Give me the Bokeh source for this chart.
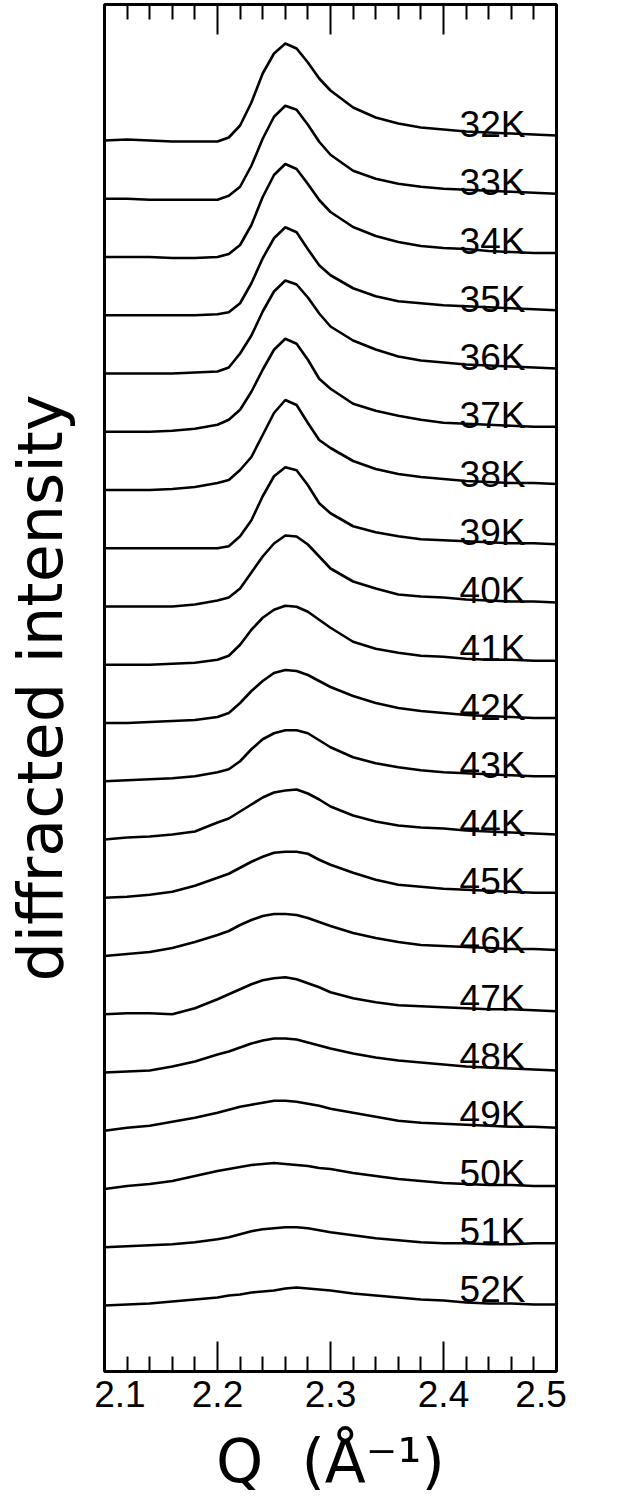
from bokeh.plotting import figure
from bokeh.models import LinearAxis, FixedTicker
from bokeh.core.properties import value
from bokeh.embed import file_html
from bokeh.resources import INLINE

# Scattering vector Q (1/Angstrom) at which the curves were read
q = [2.10, 2.12, 2.14, 2.16, 2.18, 2.20, 2.21, 2.22, 2.23, 2.24, 2.25, 2.26, 2.27,
     2.28, 2.29, 2.30, 2.32, 2.34, 2.36, 2.38, 2.40, 2.42, 2.44, 2.46, 2.48, 2.50]

temps = ["32K", "33K", "34K", "35K", "36K", "37K", "38K", "39K", "40K", "41K", "42K",
         "43K", "44K", "45K", "46K", "47K", "48K", "49K", "50K", "51K", "52K"]

# diffracted intensity above each curve's own background (arb. units)
i32 = [0, 1, 0, -1, -1, -1, 3, 15, 38, 67, 87, 97, 92, 78, 62, 50, 33, 23, 17, 13, 11, 9, 8, 7, 6, 5]
i33 = [0, 0, -1, -1, -1, -1, 3, 12, 33, 60, 82, 93, 89, 74, 57, 44, 28, 20, 15, 12, 10, 9, 8, 7, 6, 5]
i34 = [0, 0, 0, -1, -1, 0, 3, 12, 32, 60, 82, 93, 88, 73, 57, 45, 30, 21, 15, 11, 9, 8, 6, 5, 4, 4]
i35 = [0, 0, 0, 0, 0, 1, 3, 12, 32, 57, 77, 88, 83, 66, 50, 40, 27, 19, 14, 12, 10, 9, 8, 7, 6, 5]
i36 = [0, 0, 0, 0, 1, 2, 6, 20, 38, 62, 82, 93, 89, 76, 60, 47, 33, 24, 17, 13, 11, 9, 8, 7, 6, 5]
i37 = [0, 0, 0, 1, 3, 7, 12, 22, 40, 62, 82, 93, 88, 72, 53, 43, 28, 21, 16, 12, 9, 8, 7, 6, 5, 5]
i38 = [0, 0, 0, 1, 3, 7, 10, 20, 33, 55, 77, 90, 85, 67, 50, 42, 29, 21, 16, 13, 11, 9, 8, 7, 7, 6]
i39 = [0, 0, 0, 0, 0, 0, 2, 12, 28, 52, 72, 81, 78, 63, 45, 35, 22, 16, 12, 9, 8, 7, 6, 5, 5, 4]
i40 = [0, 0, 0, 0, 2, 6, 9, 18, 34, 50, 63, 71, 70, 62, 50, 38, 25, 18, 12, 10, 9, 7, 6, 5, 5, 4]
i41 = [0, 0, 0, 1, 2, 5, 9, 20, 35, 47, 55, 59, 58, 53, 45, 37, 23, 16, 12, 9, 8, 6, 5, 5, 4, 4]
i42 = [0, 0, 1, 2, 3, 6, 10, 20, 32, 42, 50, 53, 52, 48, 42, 36, 27, 20, 15, 12, 10, 8, 7, 6, 5, 5]
i43 = [0, 1, 2, 3, 5, 9, 12, 20, 32, 42, 48, 51, 51, 48, 41, 34, 24, 18, 14, 11, 9, 8, 7, 6, 5, 5]
i44 = [0, 2, 3, 5, 8, 17, 21, 28, 35, 42, 47, 49, 50, 46, 40, 33, 24, 18, 14, 12, 11, 9, 8, 7, 6, 5]
i45 = [0, 1, 3, 6, 12, 20, 24, 30, 36, 41, 45, 46, 46, 44, 38, 33, 25, 18, 13, 11, 9, 8, 7, 6, 5, 5]
i46 = [0, 2, 4, 8, 14, 21, 25, 31, 36, 40, 42, 42, 41, 38, 34, 30, 23, 18, 14, 11, 10, 9, 8, 7, 7, 6]
i47 = [0, 1, 1, 0, 6, 15, 20, 25, 30, 34, 36, 37, 35, 31, 27, 22, 16, 12, 9, 8, 7, 6, 5, 5, 4, 3]
i48 = [0, 1, 2, 6, 11, 18, 21, 25, 29, 32, 34, 34, 33, 30, 27, 24, 19, 15, 12, 10, 8, 6, 5, 4, 3, 2]
i49 = [0, 3, 5, 9, 13, 18, 21, 24, 26, 28, 30, 30, 29, 27, 25, 22, 18, 14, 10, 8, 7, 6, 5, 4, 4, 3]
i50 = [0, 3, 5, 8, 13, 18, 20, 22, 24, 25, 26, 25, 24, 23, 21, 20, 16, 13, 10, 8, 6, 5, 4, 4, 3, 3]
i51 = [0, 1, 2, 3, 5, 8, 10, 13, 16, 18, 19, 20, 20, 19, 17, 15, 12, 9, 7, 5, 4, 4, 3, 3, 4, 4]
i52 = [0, 1, 2, 4, 6, 8, 10, 11, 13, 14, 15, 17, 18, 17, 16, 15, 12, 10, 8, 6, 5, 3, 2, 2, 1, 1]

intensities = [i32, i33, i34, i35, i36, i37, i38, i39, i40, i41, i42,
               i43, i44, i45, i46, i47, i48, i49, i50, i51, i52]

major_ticks = [2.1, 2.2, 2.3, 2.4, 2.5]
minor_ticks = [2.12, 2.14, 2.16, 2.18, 2.22, 2.24, 2.26, 2.28,
               2.32, 2.34, 2.36, 2.38, 2.42, 2.44, 2.46, 2.48]
tick_labels = ["2.1", "2.2", "2.3", "2.4", "2.5"]

spacing = 58.25
n = len(temps)
NB = "\u00a0"

p = figure(width=630, height=1500, x_range=(2.1, 2.5), y_range=(-66, 1301),
           output_backend="svg", toolbar_location=None,
           min_border_left=104, min_border_right=74, min_border_top=4, min_border_bottom=129)
p.grid.visible = False
p.outline_line_color = "black"
p.outline_line_width = 3
p.background_fill_color = "white"
p.border_fill_color = "white"

ticker = FixedTicker(ticks=major_ticks, minor_ticks=minor_ticks)

# bottom axis labels; the end labels sit slightly inside the frame as in the original
bottom_labels = {t: s for t, s in zip(major_ticks, tick_labels)}
bottom_labels[major_ticks[0]] = NB * 3 + tick_labels[0]
bottom_labels[major_ticks[-1]] = tick_labels[-1] + NB * 3

xa = p.xaxis[0]
xa.ticker = ticker
xa.major_label_overrides = bottom_labels
xa.axis_line_color = None
xa.major_tick_in = 30
xa.major_tick_out = 0
xa.minor_tick_in = 15
xa.minor_tick_out = 0
xa.major_tick_line_width = 2
xa.minor_tick_line_width = 2
xa.major_label_text_font = "Liberation Sans"
xa.major_label_text_font_size = "37px"
xa.major_label_text_color = "black"
xa.major_label_standoff = 2
xa.axis_label = "Q" + NB + NB + "(Å\u207b\u00b9)"
xa.axis_label_text_font = "DejaVu Sans"
xa.axis_label_text_font_style = "normal"
xa.axis_label_text_font_size = "60px"
xa.axis_label_text_color = "black"
xa.axis_label_standoff = 8

top = LinearAxis(ticker=ticker, axis_line_color=None, major_tick_in=30, major_tick_out=0,
                 minor_tick_in=15, minor_tick_out=0, major_tick_line_width=2,
                 minor_tick_line_width=2, major_label_standoff=0,
                 major_label_overrides={t: "" for t in major_ticks})
p.add_layout(top, "above")

ya = p.yaxis[0]
ya.ticker = FixedTicker(ticks=[])
ya.axis_line_color = None
ya.major_tick_line_color = None
ya.minor_tick_line_color = None
ya.major_tick_out = 0
ya.major_label_standoff = 0
ya.axis_label = "diffracted intensity"
ya.axis_label_text_font = "DejaVu Sans"
ya.axis_label_text_font_style = "normal"
ya.axis_label_text_font_size = "62px"
ya.axis_label_text_color = "black"
ya.axis_label_standoff = 28

for k, vals in enumerate(intensities):
    off = (n - 1 - k) * spacing
    p.line(q, [v + off for v in vals], line_color="black", line_width=2.6)

label_y = [(n - 1 - k) * spacing + 16 for k in range(n)]
p.text(x=[2.4725] * n, y=label_y, text=temps, text_align="right", text_baseline="alphabetic",
       text_font=value("Liberation Sans"), text_font_size="37px", text_color="black")

open("out.html", "w").write(file_html(p, INLINE))
